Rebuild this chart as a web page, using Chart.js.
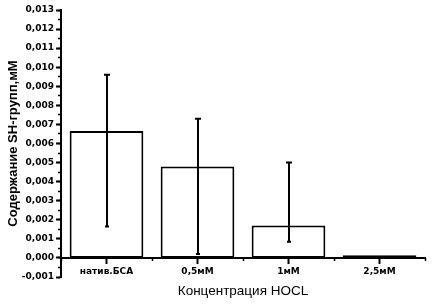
<!DOCTYPE html>
<html>
<head>
<meta charset="utf-8">
<script src="https://cdn.jsdelivr.net/npm/chart.js@4"></script>
<style>
  body { margin: 0; background: #fff; }
</style>
</head>
<body>
<canvas id="shChart" width="432" height="305"></canvas>
<script>
const categories = ['натив.БСА', '0,5мМ', '1мМ', '2,5мМ'];
const shValues = [0.00666, 0.0048, 0.0017, 0.00014];
const errHigh = [0.0096, 0.0073, 0.0050, 0.00014];
const errLow = [0.00165, 0.0002, 0.00085, 0.00014];

// error bars drawn through the y scale
const errorBars = {
    id: 'errorBars',
    afterDatasetsDraw(chart) {
        const ctx = chart.ctx;
        const yScale = chart.scales.y;
        const meta = chart.getDatasetMeta(0);
        ctx.save();
        ctx.strokeStyle = '#000';
        ctx.lineWidth = 2;
        meta.data.forEach((bar, i) => {
            if (errHigh[i] === errLow[i]) return;
            const x = Math.round(bar.x);
            const yHi = yScale.getPixelForValue(errHigh[i]);
            const yLo = yScale.getPixelForValue(errLow[i]);
            ctx.beginPath();
            ctx.moveTo(x, yHi);
            ctx.lineTo(x, yLo);
            ctx.moveTo(x - 3, yHi);
            ctx.lineTo(x + 3, yHi);
            ctx.moveTo(x - 2, yLo);
            ctx.lineTo(x + 2, yLo);
            ctx.stroke();
        });
        ctx.restore();
    }
};

function fmtTick(v) {
    if (Math.abs(v) < 1e-9) v = 0;
    return v.toFixed(3).replace('.', ',');
}

const ctx = document.getElementById('shChart').getContext('2d');
let chart = new Chart(ctx, {
    type: 'bar',
    data: {
        labels: categories,
        datasets: [{
            data: shValues,
            backgroundColor: '#fff',
            borderColor: '#000',
            borderWidth: 2,
            borderSkipped: false,
            categoryPercentage: 1,
            barPercentage: 0.81
        }]
    },
    options: {
        responsive: false,
        animation: false,
        layout: { padding: { top: 10, bottom: 28, left: 0, right: 7 } },
        plugins: {
            legend: { display: false },
            tooltip: { enabled: false }
        },
        scales: {
            x: {
                type: 'category',
                position: { y: 0 },
                offset: true,
                z: 1,
                grid: { offset: false, drawOnChartArea: false, tickLength: 5, tickWidth: 2, tickColor: '#000' },
                border: { color: '#000', width: 2 },
                ticks: { color: '#000', padding: 3, font: { family: 'DejaVu Sans', size: 9, weight: 'bold' } },
                title: {
                    display: true,
                    text: 'Концентрация HOCL',
                    color: '#000',
                    padding: { top: 3, bottom: 0 },
                    font: { family: 'Liberation Sans', size: 13.5 }
                }
            },
            xMinor: {
                type: 'category',
                position: { y: 0 },
                offset: true,
                grid: { offset: true, drawOnChartArea: false, tickLength: 3, tickWidth: 1.5, tickColor: '#000' },
                border: { display: false },
                ticks: { display: false }
            },
            y: {
                position: 'left',
                weight: 1,
                min: -0.001,
                max: 0.013,
                afterFit: s => { s.width = 61; },
                grid: { drawOnChartArea: false, tickLength: 5, tickWidth: 2, tickColor: '#000' },
                border: { color: '#000', width: 2 },
                ticks: {
                    stepSize: 0.001,
                    color: '#000',
                    padding: 2,
                    font: { family: 'DejaVu Sans', size: 9, weight: 'bold' },
                    callback: fmtTick
                },
                title: {
                    display: true,
                    text: 'Содержание SH-групп,мМ',
                    color: '#000',
                    padding: { top: 6, bottom: 0 },
                    font: { family: 'Liberation Sans', size: 13, weight: 'bold' }
                }
            },
            yMinor: {
                position: 'left',
                weight: 0,
                min: -0.001,
                max: 0.013,
                afterFit: s => { s.width = 0; },
                grid: { drawOnChartArea: false, tickLength: 3, tickWidth: 1.5, tickColor: '#000' },
                border: { display: false },
                ticks: { display: false, stepSize: 0.0005 }
            }
        }
    },
    plugins: [errorBars]
});
</script>
</body>
</html>
